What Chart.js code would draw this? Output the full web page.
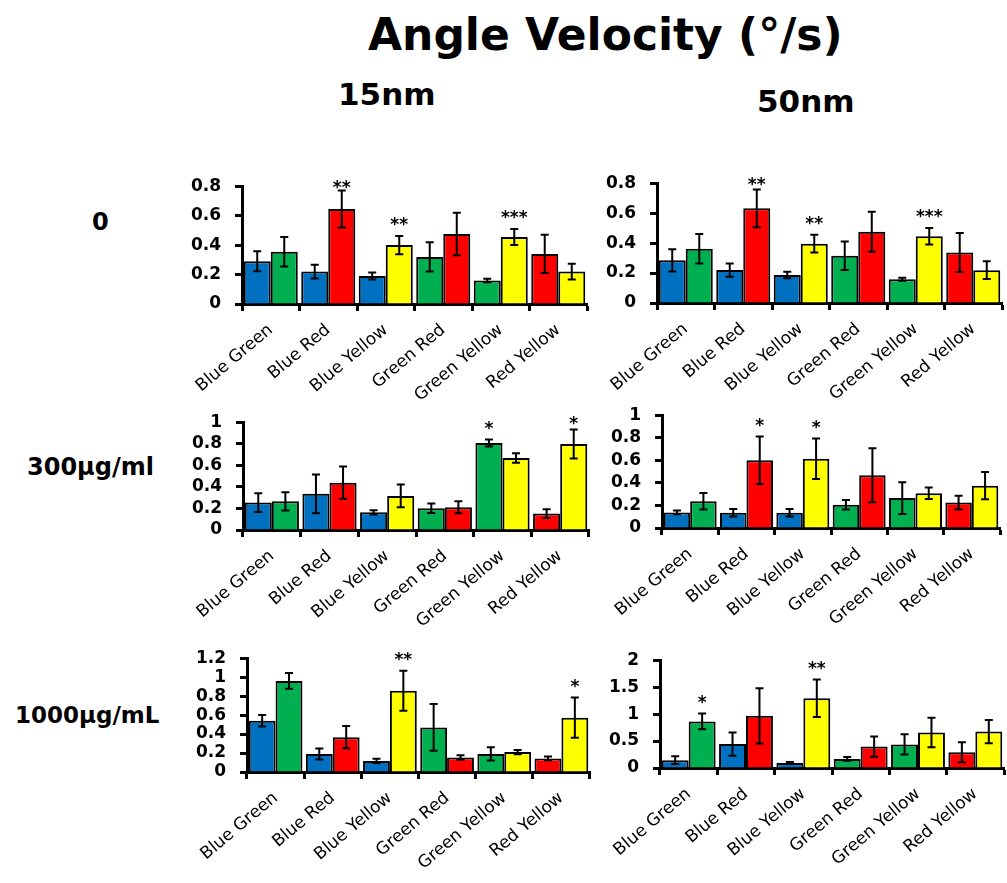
<!DOCTYPE html>
<html>
<head>
<meta charset="utf-8">
<script src="https://cdn.jsdelivr.net/npm/chart.js@4.4.0/dist/chart.umd.min.js"></script>
<style>
  body {
    margin: 0;
    background: #fff;
    width: 1007px;
    height: 883px;
    position: relative;
    overflow: hidden;
    font-family: 'Comic Sans MS', 'DejaVu Sans', sans-serif;
  }
  .lbl {
    position: absolute;
    font-weight: bold;
    color: #000;
    white-space: nowrap;
    line-height: 1;
  }
  canvas { position: absolute; }
</style>
</head>
<body>

<div class="lbl" style="left:368px; top:13px; font-size:44px;">Angle Velocity (°/s)</div>
<div class="lbl" style="left:338px; top:79px; font-size:31px;">15nm</div>
<div class="lbl" style="left:757px; top:86px; font-size:31px;">50nm</div>
<div class="lbl" style="left:92px; top:210px; font-size:24px;">0</div>
<div class="lbl" style="left:27px; top:455px; font-size:24px;">300µg/ml</div>
<div class="lbl" style="left:15px; top:704px; font-size:23px;">1000µg/mL</div>

<canvas id="p15_0"></canvas>
<canvas id="p50_0"></canvas>
<canvas id="p15_300"></canvas>
<canvas id="p50_300"></canvas>
<canvas id="p15_1000"></canvas>
<canvas id="p50_1000"></canvas>

<script>
const BLUE = '#0070C0';
const GREEN = '#00B050';
const RED = '#FF0000';
const YELLOW = '#FFFF00';

const categories = ['Blue Green', 'Blue Red', 'Blue Yellow', 'Green Red', 'Green Yellow', 'Red Yellow'];
// left bar of each pair gets the first colour, right bar the second
const firstColors = [BLUE, BLUE, BLUE, GREEN, GREEN, RED];
const secondColors = [GREEN, RED, YELLOW, RED, YELLOW, YELLOW];

// 15nm, 0
const nm15_0_first = [0.29, 0.22, 0.19, 0.32, 0.16, 0.34];
const nm15_0_firstErr = [0.068, 0.047, 0.024, 0.10, 0.012, 0.13];
const nm15_0_second = [0.355, 0.645, 0.40, 0.475, 0.455, 0.22];
const nm15_0_secondErr = [0.10, 0.125, 0.062, 0.144, 0.054, 0.054];
const nm15_0_stars = ['', '**', '**', '', '***', ''];
const nm15_0_ticks = [0, 0.2, 0.4, 0.6, 0.8];

// 50nm, 0
const nm50_0_first = [0.285, 0.22, 0.187, 0.315, 0.158, 0.337];
const nm50_0_firstErr = [0.074, 0.044, 0.021, 0.095, 0.01, 0.13];
const nm50_0_second = [0.362, 0.632, 0.396, 0.476, 0.446, 0.219];
const nm50_0_secondErr = [0.099, 0.126, 0.059, 0.133, 0.055, 0.059];
const nm50_0_stars = ['', '**', '**', '', '***', ''];
const nm50_0_ticks = [0, 0.2, 0.4, 0.6, 0.8];

// 15nm, 300µg/ml
const nm15_300_first = [0.254, 0.336, 0.164, 0.202, 0.807, 0.152];
const nm15_300_firstErr = [0.088, 0.18, 0.02, 0.044, 0.032, 0.041];
const nm15_300_second = [0.266, 0.439, 0.316, 0.211, 0.667, 0.798];
const nm15_300_secondErr = [0.085, 0.149, 0.105, 0.055, 0.044, 0.135];
const nm15_300_firstStars = ['', '', '', '', '*', ''];
const nm15_300_stars = ['', '', '', '', '', '*'];
const nm15_300_ticks = [0, 0.2, 0.4, 0.6, 0.8, 1];

// 50nm, 300µg/ml
const nm50_300_first = [0.138, 0.135, 0.135, 0.206, 0.265, 0.225];
const nm50_300_firstErr = [0.017, 0.034, 0.034, 0.042, 0.141, 0.062];
const nm50_300_second = [0.237, 0.60, 0.614, 0.468, 0.307, 0.375];
const nm50_300_secondErr = [0.073, 0.211, 0.18, 0.239, 0.051, 0.121];
const nm50_300_stars = ['', '*', '*', '', '', ''];
const nm50_300_ticks = [0, 0.2, 0.4, 0.6, 0.8, 1];

// 15nm, 1000µg/mL
const nm15_1000_first = [0.54, 0.19, 0.117, 0.47, 0.19, 0.143];
const nm15_1000_firstErr = [0.06, 0.057, 0.023, 0.247, 0.07, 0.02];
const nm15_1000_second = [0.96, 0.367, 0.857, 0.153, 0.21, 0.573];
const nm15_1000_secondErr = [0.083, 0.117, 0.21, 0.023, 0.023, 0.213];
const nm15_1000_stars = ['', '', '**', '', '', '*'];
const nm15_1000_ticks = [0, 0.2, 0.4, 0.6, 0.8, 1, 1.2];

// 50nm, 1000µg/mL
const nm50_1000_first = [0.146, 0.443, 0.093, 0.169, 0.437, 0.292];
const nm50_1000_firstErr = [0.07, 0.216, 0.017, 0.035, 0.187, 0.187];
const nm50_1000_second = [0.863, 0.968, 1.294, 0.397, 0.659, 0.676];
const nm50_1000_secondErr = [0.146, 0.513, 0.35, 0.187, 0.274, 0.216];
const nm50_1000_stars = ['*', '', '**', '', '', ''];
const nm50_1000_ticks = [0, 0.5, 1, 1.5, 2];

const NO_STARS = ['', '', '', '', '', ''];

// room around the plot area inside each canvas
const Y_W = 62, X_H = 100, PAD_T = 18, PAD_R = 4;

const tickFont = { family: "'Comic Sans MS', 'DejaVu Sans', sans-serif", size: 17, weight: 'bold' };
const catFont = { family: "'Comic Sans MS', 'DejaVu Sans', sans-serif", size: 17 };

// error bars and significance stars drawn on top of the bars
const errorBarPlugin = {
  id: 'errorBars',
  afterDatasetsDraw(chart) {
    const ctx = chart.ctx;
    const y = chart.scales.y;
    ctx.save();
    chart.data.datasets.forEach((ds, di) => {
      const meta = chart.getDatasetMeta(di);
      meta.data.forEach((bar, i) => {
        const v = ds.data[i];
        const e = ds.errors[i];
        const top = y.getPixelForValue(v + e);
        const bot = y.getPixelForValue(Math.max(v - e, 0));
        ctx.strokeStyle = '#000';
        ctx.lineWidth = 2;
        ctx.beginPath();
        ctx.moveTo(bar.x, top);
        ctx.lineTo(bar.x, bot);
        ctx.moveTo(bar.x - 4, top);
        ctx.lineTo(bar.x + 4, top);
        ctx.moveTo(bar.x - 4, bot);
        ctx.lineTo(bar.x + 4, bot);
        ctx.stroke();

        const star = ds.stars[i];
        if (star) {
          ctx.fillStyle = '#000';
          ctx.font = 'bold 17px DejaVu Sans';
          ctx.textAlign = 'center';
          ctx.textBaseline = 'middle';
          const sy = Math.max(top - 14, chart.chartArea.top - 2);
          ctx.fillText(star, bar.x, sy + 4);
        }
      });
    });
    ctx.restore();
  }
};

function makePanel(id, area, first, firstErr, second, secondErr, firstStars, secondStars, ticks) {
  const canvas = document.getElementById(id);
  canvas.width = (area.right - area.left) + Y_W + PAD_R;
  canvas.height = (area.bottom - area.top) + PAD_T + X_H;
  canvas.style.left = (area.left - Y_W) + 'px';
  canvas.style.top = (area.top - PAD_T) + 'px';

  const barStyle = { borderColor: '#000', borderWidth: 2, borderSkipped: 'start' };

  return new Chart(canvas, {
    type: 'bar',
    data: {
      labels: categories,
      datasets: [
        Object.assign({ data: first, errors: firstErr, stars: firstStars, backgroundColor: firstColors }, barStyle),
        Object.assign({ data: second, errors: secondErr, stars: secondStars, backgroundColor: secondColors }, barStyle)
      ]
    },
    options: {
      responsive: false,
      animation: false,
      layout: { padding: { top: PAD_T, right: PAD_R, left: 0, bottom: 0 } },
      datasets: { bar: { categoryPercentage: 0.94, barPercentage: 1 } },
      plugins: { legend: { display: false }, tooltip: { enabled: false } },
      scales: {
        x: {
          grid: { offset: true, drawOnChartArea: false, drawTicks: true, tickLength: 7, tickWidth: 3, tickColor: '#000' },
          border: { color: '#000', width: 3 },
          ticks: { color: '#000', font: catFont, autoSkip: false, minRotation: 40, maxRotation: 40, padding: 9 },
          afterFit: s => { s.height = X_H; }
        },
        y: {
          min: 0,
          max: ticks[ticks.length - 1],
          afterBuildTicks: s => { s.ticks = ticks.map(v => ({ value: v })); },
          grid: { drawOnChartArea: false, drawTicks: true, tickLength: 7, tickWidth: 3, tickColor: '#000' },
          border: { color: '#000', width: 3 },
          ticks: { color: '#000', font: tickFont, padding: 14, autoSkip: false, callback: v => String(v) },
          afterFit: s => { s.width = Y_W; }
        }
      }
    },
    plugins: [errorBarPlugin]
  });
}

makePanel('p15_0', { left: 242, top: 180, right: 587, bottom: 304 },
  nm15_0_first, nm15_0_firstErr, nm15_0_second, nm15_0_secondErr, NO_STARS, nm15_0_stars, nm15_0_ticks);
makePanel('p50_0', { left: 657, top: 177, right: 1002, bottom: 303 },
  nm50_0_first, nm50_0_firstErr, nm50_0_second, nm50_0_secondErr, NO_STARS, nm50_0_stars, nm50_0_ticks);
makePanel('p15_300', { left: 243, top: 416, right: 589, bottom: 530 },
  nm15_300_first, nm15_300_firstErr, nm15_300_second, nm15_300_secondErr, nm15_300_firstStars, nm15_300_stars, nm15_300_ticks);
makePanel('p50_300', { left: 662, top: 409, right: 1000, bottom: 528 },
  nm50_300_first, nm50_300_firstErr, nm50_300_second, nm50_300_secondErr, NO_STARS, nm50_300_stars, nm50_300_ticks);
makePanel('p15_1000', { left: 247, top: 652, right: 590, bottom: 772 },
  nm15_1000_first, nm15_1000_firstErr, nm15_1000_second, nm15_1000_secondErr, NO_STARS, nm15_1000_stars, nm15_1000_ticks);
makePanel('p50_1000', { left: 660, top: 654, right: 1004, bottom: 768 },
  nm50_1000_first, nm50_1000_firstErr, nm50_1000_second, nm50_1000_secondErr, NO_STARS, nm50_1000_stars, nm50_1000_ticks);
</script>
</body>
</html>
